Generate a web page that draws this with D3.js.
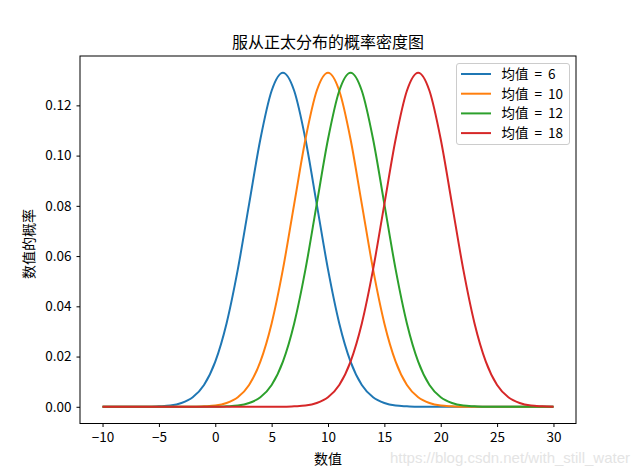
<!DOCTYPE html>
<html><head><meta charset="utf-8">
<script src="https://cdn.jsdelivr.net/npm/d3@7"></script>
<style>body{margin:0;background:#fff}svg{display:block}text{font-family:"Noto Sans CJK SC","DejaVu Sans",sans-serif}</style>
</head><body><svg id="c" width="640" height="476"></svg>
<script>
const xValues = d3.range(-10, 31, 1);
const seriesNames = ["均值 = 6", "均值 = 10", "均值 = 12", "均值 = 18"];
const mean6 = [0,0,0,0,0,0.0002,0.0005,0.0015,0.0038,0.0087,0.0180,0.0332,0.0547,0.0807,0.1065,0.1258,0.1330,0.1258,0.1065,0.0807,0.0547,0.0332,0.0180,0.0087,0.0038,0.0015,0.0005,0.0002,0,0,0,0,0,0,0,0,0,0,0,0,0];
const mean10 = [0,0,0,0,0,0,0,0,0,0.0002,0.0005,0.0015,0.0038,0.0087,0.0180,0.0332,0.0547,0.0807,0.1065,0.1258,0.1330,0.1258,0.1065,0.0807,0.0547,0.0332,0.0180,0.0087,0.0038,0.0015,0.0005,0.0002,0,0,0,0,0,0,0,0,0];
const mean12 = [0,0,0,0,0,0,0,0,0,0,0,0.0002,0.0005,0.0015,0.0038,0.0087,0.0180,0.0332,0.0547,0.0807,0.1065,0.1258,0.1330,0.1258,0.1065,0.0807,0.0547,0.0332,0.0180,0.0087,0.0038,0.0015,0.0005,0.0002,0,0,0,0,0,0,0];
const mean18 = [0,0,0,0,0,0,0,0,0,0,0,0,0,0,0,0,0,0.0002,0.0005,0.0015,0.0038,0.0087,0.0180,0.0332,0.0547,0.0807,0.1065,0.1258,0.1330,0.1258,0.1065,0.0807,0.0547,0.0332,0.0180,0.0087,0.0038,0.0015,0.0005,0.0002,0];
const xTicks = [-10, -5, 0, 5, 10, 15, 20, 25, 30];
const yTicks = [0, 0.02, 0.04, 0.06, 0.08, 0.10, 0.12];
const colors = ["#1f77b4", "#ff7f0e", "#2ca02c", "#d62728"];
const series = [mean6, mean10, mean12, mean18];

const svg = d3.select("#c");
const L = 80, R = 576, T = 56, B = 423.5;
const x = d3.scaleLinear().domain([-12, 32]).range([L, R]);
const y = d3.scaleLinear().domain([-0.00665, 0.13965]).range([B, T]);

const line = d3.line().x((d, i) => x(xValues[i])).y(d => y(d)).curve(d3.curveMonotoneX);
series.forEach((s, k) => {
  svg.append("path").attr("d", line(s)).attr("fill", "none")
    .attr("stroke", colors[k]).attr("stroke-width", 2);
});

const xa = svg.append("g").attr("transform", `translate(0,${B})`)
  .call(d3.axisBottom(x).tickValues(xTicks).tickSize(3.5).tickPadding(5).tickFormat(d => d < 0 ? "\u2212" + Math.abs(d) : d));
const ya = svg.append("g").attr("transform", `translate(${L},0)`)
  .call(d3.axisLeft(y).tickValues(yTicks).tickSize(3.5).tickPadding(5).tickFormat(d3.format(".2f")));
[xa, ya].forEach(g => {
  g.select(".domain").remove();
  g.selectAll("line").attr("stroke", "#000").attr("stroke-width", 1);
  g.selectAll("text").attr("fill", "#000").style("font-size", "13.5px").style("font-family", '"Noto Sans CJK SC",sans-serif');
});
svg.append("rect").attr("x", L).attr("y", T).attr("width", R - L).attr("height", B - T)
  .attr("fill", "none").attr("stroke", "#000").attr("stroke-width", 1);

svg.append("text").attr("x", (L + R) / 2).attr("y", 48).attr("text-anchor", "middle")
  .style("font-size", "16px").text("服从正太分布的概率密度图");
svg.append("text").attr("x", (L + R) / 2).attr("y", 464).attr("text-anchor", "middle")
  .style("font-size", "14px").text("数值");
svg.append("text").attr("transform", `translate(34,244) rotate(-90)`).attr("text-anchor", "middle")
  .style("font-size", "14px").text("数值的概率");

// legend
const lg = svg.append("g");
lg.append("rect").attr("x", 456.5).attr("y", 63.5).attr("width", 113).attr("height", 81).attr("rx", 2.5)
  .attr("fill", "#fff").attr("fill-opacity", 0.8).attr("stroke", "#ccc").attr("stroke-width", 1);
seriesNames.forEach((n, k) => {
  const yy = 74 + k * 19.7;
  lg.append("line").attr("x1", 461).attr("x2", 491).attr("y1", yy).attr("y2", yy)
    .attr("stroke", colors[k]).attr("stroke-width", 2);
  lg.append("text").attr("x", 501.5).attr("y", yy + 5).style("font-size", "13.5px").attr("fill", "#000")
    .attr("xml:space", "preserve").style("white-space", "pre").text(n.replace(/ = /, "  =  "));
});

// watermark
svg.append("text").attr("x", 630).attr("y", 463).attr("text-anchor", "end")
  .style("font-size", "15px").style("font-family", '"Liberation Sans",Arial,sans-serif')
  .attr("fill", "#e4e4e4").text("https://blog.csdn.net/with_still_water");
</script></body></html>
